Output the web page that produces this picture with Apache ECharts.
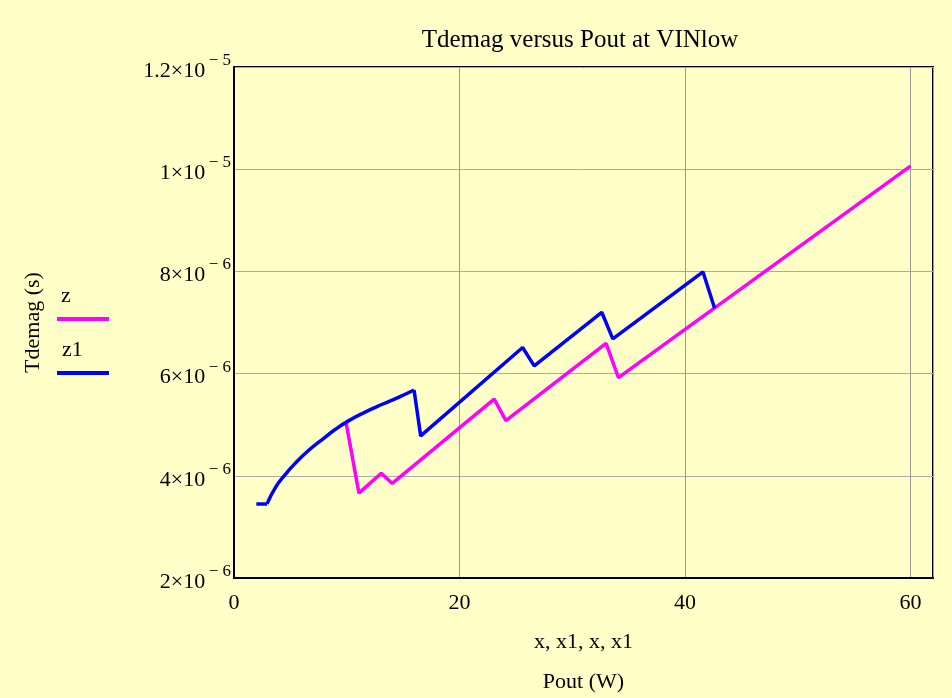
<!DOCTYPE html>
<html>
<head>
<meta charset="utf-8">
<script src="https://cdn.jsdelivr.net/npm/echarts@6/dist/echarts.min.js"></script>
<style>
html,body{margin:0;padding:0;background:#FFFFC8;}
#c{width:952px;height:698px;}
</style>
</head>
<body>
<div id="c"></div>
<script>
// Series z (magenta): Pout (W) and Tdemag (s)
var zX = [9.95, 11.08, 13.06, 14.04, 23.08, 24.12, 33.0, 34.1, 60.0];
var zY = [5.03e-6, 3.66e-6, 4.05e-6, 3.85e-6, 5.50e-6, 5.08e-6, 6.59e-6, 5.92e-6, 10.06e-6];
// Series z1 (blue)
var z1X = [1.98, 2.93, 3.67, 4.56, 5.45, 6.63, 7.82, 9.0, 10.19, 11.67, 13.16, 14.63, 15.97, 16.56, 25.6, 26.63, 32.62, 33.6, 41.6, 42.63];
var z1Y = [3.45e-6, 3.45e-6, 3.77e-6, 4.03e-6, 4.25e-6, 4.50e-6, 4.71e-6, 4.91e-6, 5.08e-6, 5.25e-6, 5.40e-6, 5.54e-6, 5.68e-6, 4.78e-6, 6.51e-6, 6.15e-6, 7.20e-6, 6.68e-6, 7.99e-6, 7.28e-6];
// index range of z1 that follows the smooth rising curve
var z1CurveStart = 1, z1CurveEnd = 12;
// Axis ticks
var xTicks = [0, 20, 40, 60];
var yTicks = [2e-6, 4e-6, 6e-6, 8e-6, 1e-5, 1.2e-5];

var FONT = "'Liberation Serif', 'Times New Roman', serif";

function zip(a, b) { return a.map(function (v, i) { return [v, b[i]]; }); }
var z1Data = zip(z1X, z1Y);

function sci(v) {
  if (v === 0) return '0';
  var e = Math.floor(Math.log10(v) + 1e-9);
  var m = +(v / Math.pow(10, e)).toFixed(3);
  return '{a|' + m + '\u00d710}{b|\u2009\u2212 ' + (-e) + '}';
}

var blueStyle = { color: '#0000FF', width: 3.5 };

var chart = echarts.init(document.getElementById('c'));
chart.setOption({
  backgroundColor: '#FFFFC8',
  animation: false,
  title: {
    text: 'Tdemag versus Pout at VINlow',
    left: 580, top: 28, padding: 0, textAlign: 'center',
    textStyle: { fontFamily: FONT, fontSize: 25, fontWeight: 'normal', color: '#000' }
  },
  grid: {
    left: 234, right: 19, top: 67, bottom: 120,
    containLabel: false, outerBoundsMode: 'none',
    show: true, borderColor: '#000', borderWidth: 2, backgroundColor: 'transparent'
  },
  xAxis: {
    type: 'value', min: xTicks[0], max: 62, interval: xTicks[1] - xTicks[0],
    name: 'x, x1, x, x1\nPout (W)', nameLocation: 'middle', nameGap: 44,
    nameTextStyle: { fontFamily: FONT, fontSize: 22, color: '#000', lineHeight: 40 },
    axisLine: { show: true, lineStyle: { color: '#000', width: 2 } },
    axisTick: { show: false },
    axisLabel: { fontFamily: FONT, fontSize: 22, color: '#000', margin: 14, showMaxLabel: false },
    splitLine: { show: true, lineStyle: { color: '#999', width: 1 } }
  },
  yAxis: {
    type: 'value', min: yTicks[0], max: yTicks[yTicks.length - 1], interval: yTicks[1] - yTicks[0],
    name: 'Tdemag (s)', nameLocation: 'middle', nameGap: 190, nameRotate: 90,
    nameTextStyle: { fontFamily: FONT, fontSize: 22, color: '#000' },
    axisLine: { show: true, lineStyle: { color: '#000', width: 2 } },
    axisTick: { show: false },
    axisLabel: {
      margin: 3, color: '#000', formatter: sci,
      rich: {
        a: { fontFamily: FONT, fontSize: 22, color: '#000', lineHeight: 30, verticalAlign: 'bottom' },
        b: { fontFamily: FONT, fontSize: 17, color: '#000', verticalAlign: 'top' }
      }
    },
    splitLine: { show: true, lineStyle: { color: '#aaa', width: 1 } }
  },
  series: [
    { name: 'z', type: 'line', data: zip(zX, zY), showSymbol: false, symbol: 'none',
      lineStyle: { color: '#FF00FF', width: 3.5 }, z: 3 },
    { name: 'z1', type: 'line', data: z1Data.slice(0, z1CurveStart + 1), showSymbol: false, symbol: 'none',
      lineStyle: blueStyle, z: 4 },
    { name: 'z1', type: 'line', data: z1Data.slice(z1CurveStart, z1CurveEnd + 1), showSymbol: false, symbol: 'none',
      smooth: 0.5, lineStyle: blueStyle, z: 4 },
    { name: 'z1', type: 'line', data: z1Data.slice(z1CurveEnd), showSymbol: false, symbol: 'none',
      lineStyle: blueStyle, z: 4 }
  ],
  graphic: [
    { type: 'text', left: 61, top: 285, style: { text: 'z', fontFamily: FONT, fontSize: 22, fill: '#000' } },
    { type: 'line', shape: { x1: 57, y1: 319, x2: 109, y2: 319 }, style: { stroke: '#FF00FF', lineWidth: 4 } },
    { type: 'text', left: 62, top: 339, style: { text: 'z1', fontFamily: FONT, fontSize: 22, fill: '#000' } },
    { type: 'line', shape: { x1: 57, y1: 373, x2: 109, y2: 373 }, style: { stroke: '#0000FF', lineWidth: 4 } }
  ]
});
</script>
</body>
</html>
